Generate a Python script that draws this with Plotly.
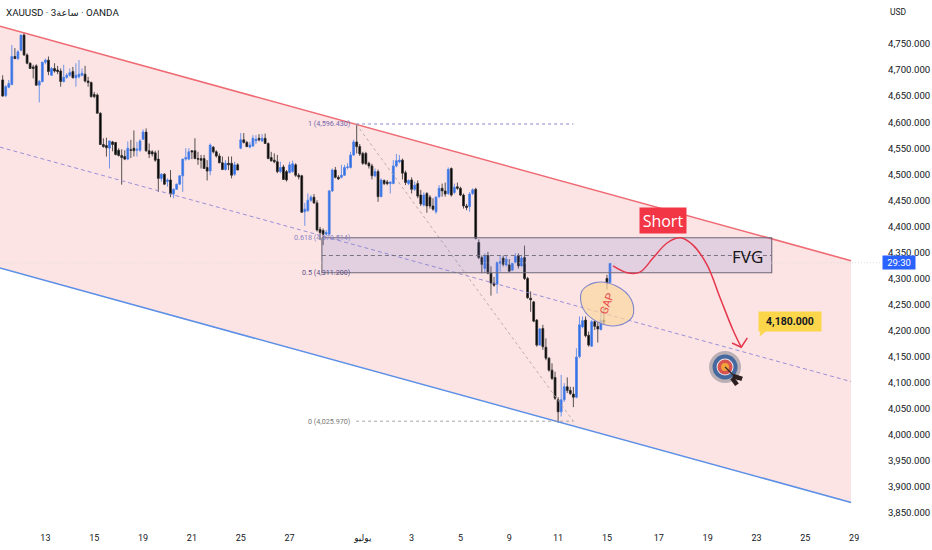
"""XAUUSD 3h chart with channel, FVG box and short idea."""

import plotly.graph_objects as go

# candles, one value per 3h bar
bar_open = [
    4681, 4651, 4667, 4672, 4726, 4722, 4738, 4767, 4729, 4713,
    4706, 4708, 4671, 4678, 4715, 4719, 4690, 4703, 4700, 4698,
    4678, 4686, 4690, 4697, 4685, 4687, 4690, 4692, 4679, 4676,
    4653, 4652, 4617, 4557, 4555, 4550, 4562, 4561, 4546, 4536,
    4534, 4529, 4547, 4550, 4546, 4546, 4567, 4581, 4545, 4543,
    4541, 4529, 4492, 4500, 4486, 4489, 4462, 4471, 4481, 4497,
    4529, 4529, 4545, 4545, 4530, 4530, 4530, 4513, 4506, 4552,
    4543, 4535, 4522, 4509, 4521, 4521, 4500, 4518, 4550, 4566,
    4561, 4552, 4554, 4564, 4569, 4564, 4569, 4559, 4532, 4527,
    4524, 4505, 4514, 4505, 4503, 4505, 4518, 4498, 4497, 4428,
    4430, 4450, 4456, 4445, 4394, 4392, 4385, 4385, 4468, 4508,
    4494, 4494, 4498, 4513, 4513, 4537, 4562, 4553, 4540, 4540,
    4521, 4516, 4497, 4505, 4457, 4488, 4485, 4482, 4482, 4516,
    4524, 4527, 4503, 4482, 4489, 4471, 4482, 4460, 4441, 4463,
    4456, 4439, 4428, 4457, 4473, 4468, 4463, 4511, 4465, 4476,
    4473, 4460, 4439, 4438, 4463, 4471, 4369, 4340, 4319, 4344,
    4310, 4291, 4289, 4329, 4339, 4326, 4326, 4316, 4331, 4344,
    4324, 4340, 4300, 4262, 4255, 4220, 4172, 4204, 4168, 4147,
    4124, 4110, 4067, 4044, 4067, 4092, 4085, 4078, 4072, 4150,
    4207, 4220, 4191, 4170, 4217, 4208, 4202, 4220, 4300, 4292,
]
bar_high = [
    4690, 4671, 4681, 4748, 4742, 4738, 4768, 4772, 4732, 4715,
    4710, 4711, 4681, 4716, 4722, 4726, 4706, 4713, 4708, 4703,
    4710, 4694, 4703, 4706, 4713, 4719, 4703, 4708, 4687, 4678,
    4658, 4655, 4619, 4569, 4570, 4564, 4564, 4562, 4550, 4548,
    4546, 4563, 4566, 4584, 4562, 4567, 4586, 4588, 4559, 4546,
    4545, 4546, 4502, 4502, 4492, 4508, 4473, 4482, 4498, 4530,
    4550, 4550, 4546, 4569, 4543, 4537, 4537, 4527, 4559, 4554,
    4546, 4540, 4534, 4527, 4534, 4534, 4524, 4521, 4579, 4579,
    4564, 4562, 4575, 4575, 4577, 4577, 4578, 4561, 4543, 4540,
    4537, 4524, 4518, 4508, 4524, 4526, 4521, 4502, 4499, 4445,
    4463, 4460, 4462, 4450, 4399, 4396, 4393, 4470, 4511, 4514,
    4498, 4518, 4518, 4521, 4543, 4566, 4596, 4558, 4543, 4543,
    4524, 4520, 4511, 4509, 4492, 4490, 4489, 4486, 4527, 4539,
    4537, 4530, 4507, 4490, 4494, 4486, 4488, 4470, 4465, 4466,
    4460, 4454, 4458, 4479, 4482, 4484, 4513, 4513, 4482, 4484,
    4476, 4463, 4443, 4466, 4473, 4474, 4375, 4344, 4348, 4351,
    4323, 4303, 4331, 4344, 4344, 4344, 4337, 4329, 4348, 4348,
    4345, 4363, 4303, 4275, 4257, 4222, 4205, 4211, 4185, 4149,
    4137, 4121, 4072, 4115, 4099, 4110, 4092, 4092, 4166, 4227,
    4227, 4227, 4198, 4220, 4220, 4217, 4236, 4246, 4307, 4329,
]
bar_low = [
    4649, 4648, 4665, 4671, 4721, 4719, 4736, 4727, 4711, 4703,
    4684, 4670, 4638, 4676, 4711, 4690, 4689, 4695, 4692, 4668,
    4676, 4683, 4687, 4684, 4668, 4684, 4688, 4676, 4668, 4647,
    4646, 4617, 4556, 4551, 4534, 4511, 4544, 4536, 4534, 4480,
    4527, 4527, 4531, 4534, 4534, 4543, 4566, 4543, 4531, 4534,
    4524, 4466, 4486, 4479, 4476, 4456, 4454, 4470, 4479, 4466,
    4526, 4527, 4529, 4529, 4518, 4511, 4511, 4488, 4498, 4540,
    4532, 4521, 4508, 4507, 4508, 4492, 4497, 4508, 4548, 4559,
    4552, 4550, 4553, 4558, 4563, 4562, 4559, 4529, 4524, 4521,
    4502, 4502, 4489, 4486, 4502, 4503, 4495, 4490, 4426, 4401,
    4428, 4447, 4443, 4390, 4374, 4364, 4383, 4383, 4466, 4492,
    4489, 4492, 4497, 4509, 4511, 4535, 4540, 4535, 4518, 4518,
    4511, 4490, 4494, 4447, 4456, 4479, 4479, 4463, 4481, 4513,
    4521, 4490, 4479, 4479, 4463, 4468, 4454, 4439, 4438, 4426,
    4434, 4430, 4424, 4454, 4457, 4457, 4460, 4457, 4462, 4470,
    4458, 4434, 4431, 4428, 4460, 4375, 4337, 4310, 4310, 4308,
    4267, 4284, 4271, 4313, 4323, 4323, 4312, 4314, 4329, 4319,
    4323, 4297, 4261, 4236, 4216, 4169, 4171, 4163, 4143, 4121,
    4105, 4067, 4023, 4035, 4063, 4080, 4076, 4053, 4070, 4147,
    4204, 4187, 4169, 4169, 4201, 4177, 4200, 4211, 4279, 4291,
]
bar_close = [
    4650, 4668, 4674, 4726, 4722, 4735, 4767, 4729, 4713, 4703,
    4703, 4671, 4678, 4715, 4719, 4697, 4703, 4698, 4697, 4678,
    4686, 4690, 4695, 4685, 4690, 4692, 4694, 4679, 4676, 4649,
    4649, 4617, 4557, 4553, 4551, 4564, 4557, 4538, 4536, 4532,
    4529, 4550, 4546, 4545, 4548, 4564, 4581, 4545, 4539, 4539,
    4527, 4492, 4500, 4481, 4489, 4463, 4471, 4481, 4497, 4529,
    4532, 4543, 4543, 4530, 4529, 4527, 4511, 4506, 4556, 4543,
    4535, 4522, 4509, 4521, 4518, 4498, 4518, 4508, 4566, 4561,
    4553, 4556, 4569, 4567, 4566, 4569, 4559, 4530, 4526, 4524,
    4505, 4513, 4490, 4489, 4518, 4520, 4498, 4495, 4427, 4433,
    4450, 4456, 4445, 4393, 4388, 4385, 4388, 4468, 4508, 4494,
    4491, 4498, 4513, 4514, 4537, 4562, 4553, 4539, 4521, 4520,
    4516, 4497, 4505, 4457, 4489, 4482, 4482, 4485, 4516, 4526,
    4527, 4502, 4484, 4488, 4471, 4479, 4458, 4443, 4460, 4439,
    4439, 4433, 4456, 4473, 4468, 4462, 4509, 4460, 4475, 4473,
    4460, 4439, 4436, 4462, 4470, 4377, 4340, 4327, 4344, 4310,
    4291, 4287, 4331, 4332, 4327, 4337, 4314, 4329, 4342, 4324,
    4339, 4300, 4263, 4259, 4218, 4172, 4203, 4169, 4147, 4124,
    4108, 4070, 4044, 4067, 4092, 4085, 4079, 4072, 4149, 4211,
    4219, 4190, 4172, 4217, 4208, 4203, 4220, 4216, 4291, 4329,
]
bar_index = list(range(len(bar_close)))

# time axis labels, placed on bar numbers
tick_bars = [14, 30, 46, 62, 78, 94, 118, 134, 150, 166, 182, 198, 215, 231, 247, 263, 279]
tick_labels = ["13", "15", "19", "21", "25", "27", "يوليو", "3", "5", "9", "11", "15", "17", "19", "23", "25", "29"]
price_ticks = list(range(3850, 4751, 50))

# drawing tools, all in bar number / price
channel_x = [-0.9, 278]
channel_upper = [4784, 4334]
channel_lower = [4320, 3870]
channel_mid = [4552, 4102]

fvg_x = [104.6, 252]
fvg_top = 4378
fvg_bottom = 4311
fvg_mid = 4344

fib_x = [115.8, 187]
fib_high = 4596.43
fib_low = 4025.97

last_price = 4330

gap_x = [206.4, 201.9, 195.1, 190.1, 189.7, 194.1, 200.9, 206, 206.4]
gap_y = [4227, 4210, 4216, 4243, 4275, 4292, 4286, 4259, 4227]

path_x = [200, 204.6, 208.8, 213.1, 217.7, 222, 226.2, 230.8, 235, 239.3, 242]
path_y = [4324, 4311, 4312, 4339, 4368, 4378, 4364, 4326, 4264, 4201, 4168]
head_x = [239, 242, 244]
head_y = [4176, 4168, 4186]

tail_x = [248.5, 250.8, 248.1, 248.5]
tail_y = [4203, 4203, 4189, 4203]

target_x = 236.7
target_y = 4130

FONT = "Roboto, 'DejaVu Sans', sans-serif"
TEXT = "#131722"
BLUE = "#2f6fe4"
RED_CURVE = "#e5374c"

fig = go.Figure()

fig.add_trace(go.Candlestick(
    x=bar_index, open=bar_open, high=bar_high, low=bar_low, close=bar_close,
    increasing=dict(line=dict(color="#4a80e8", width=0.8), fillcolor=BLUE),
    decreasing=dict(line=dict(color="#2a2a2a", width=0.8), fillcolor="#000000"),
    whiskerwidth=0, hoverinfo="skip", showlegend=False,
))

# channel borders and mid line
fig.add_trace(go.Scatter(x=channel_x, y=channel_upper, mode="lines",
                         line=dict(color="#ee6b74", width=1.6), hoverinfo="skip", showlegend=False))
fig.add_trace(go.Scatter(x=channel_x, y=channel_lower, mode="lines",
                         line=dict(color="#5c8fe6", width=1.6), hoverinfo="skip", showlegend=False))
fig.add_trace(go.Scatter(x=channel_x, y=channel_mid, mode="lines",
                         line=dict(color="#8f86d6", width=0.9, dash="4px,3px"), hoverinfo="skip", showlegend=False))

# fib lines and diagonal
fig.add_trace(go.Scatter(x=fib_x, y=[fib_high, fib_high], mode="lines",
                         line=dict(color="#7f78c4", width=0.9, dash="3px,3px"), hoverinfo="skip", showlegend=False))
fig.add_trace(go.Scatter(x=fib_x, y=[fib_low, fib_low], mode="lines",
                         line=dict(color="#9a9a9a", width=0.9, dash="3px,3px"), hoverinfo="skip", showlegend=False))
fig.add_trace(go.Scatter(x=fib_x, y=[fib_high, fib_low], mode="lines",
                         line=dict(color="#b6a5a5", width=0.9, dash="3px,3px"), hoverinfo="skip", showlegend=False))

# FVG box goes over the candles
fig.add_trace(go.Scatter(
    x=[fvg_x[0], fvg_x[1], fvg_x[1], fvg_x[0], fvg_x[0]],
    y=[fvg_top, fvg_top, fvg_bottom, fvg_bottom, fvg_top],
    mode="lines", fill="toself", fillcolor="rgba(120,125,210,0.2)",
    line=dict(color="#6f6a78", width=1.1), hoverinfo="skip", showlegend=False,
))
fig.add_trace(go.Scatter(x=fvg_x, y=[fvg_mid, fvg_mid], mode="lines",
                         line=dict(color="#6f6a78", width=0.9, dash="4px,3px"), hoverinfo="skip", showlegend=False))

# last price line
fig.add_trace(go.Scatter(x=[-0.9, 288], y=[last_price, last_price], mode="lines",
                         line=dict(color="#d5d5d8", width=0.8, dash="1px,2px"), hoverinfo="skip", showlegend=False))

# gap ellipse
fig.add_trace(go.Scatter(
    x=gap_x, y=gap_y, mode="lines", fill="toself", fillcolor="rgba(250,215,160,0.72)",
    line=dict(color="#7f86c9", width=1.1, shape="spline", smoothing=1.0),
    hoverinfo="skip", showlegend=False,
))

# short idea arrow
fig.add_trace(go.Scatter(x=path_x, y=path_y, mode="lines",
                         line=dict(color=RED_CURVE, width=1.5, shape="spline"), hoverinfo="skip", showlegend=False))
fig.add_trace(go.Scatter(x=head_x, y=head_y, mode="lines",
                         line=dict(color=RED_CURVE, width=1.5), hoverinfo="skip", showlegend=False))

# price tag tail
fig.add_trace(go.Scatter(x=tail_x, y=tail_y, mode="lines", fill="toself", fillcolor="#fbd54a",
                         line=dict(color="#fbd54a", width=0.5), hoverinfo="skip", showlegend=False))

# target icon
for size, color in [(32, "#baafb5"), (25, "#45699e"), (17, "#e6e6ee"), (15, "#d9534f"), (8, "#f2a33a")]:
    fig.add_trace(go.Scatter(x=[target_x], y=[target_y], mode="markers",
                             marker=dict(size=size, color=color, line=dict(width=0)),
                             hoverinfo="skip", showlegend=False))
fig.add_trace(go.Scatter(x=[target_x, 241], y=[target_y, 4105], mode="lines",
                         line=dict(color="#3b2a2a", width=1.3), hoverinfo="skip", showlegend=False))
fig.add_trace(go.Scatter(x=[239.3, 242.3], y=[4113, 4107], mode="lines",
                         line=dict(color="#2d2020", width=4.5), hoverinfo="skip", showlegend=False))
fig.add_trace(go.Scatter(x=[239, 240.6], y=[4109, 4096], mode="lines",
                         line=dict(color="#2d2020", width=4.5), hoverinfo="skip", showlegend=False))

# texts
fib_labels = [
    ("1 (4,596.430)", fib_high, "#7466ad"),
    ("0.618 (4,378.514)", fvg_top, "#8a86c4"),
    ("0.5 (4,311.200)", fvg_bottom, "#5d4f8a"),
    ("0 (4,025.970)", fib_low, "#787878"),
]
for label, price, color in fib_labels:
    fig.add_annotation(x=114.5, y=price, text=label, showarrow=False, xanchor="right",
                       font=dict(size=7.2, color=color, family=FONT))

fig.add_annotation(x=216.4, y=4412, text="Short", showarrow=False, width=44, height=23,
                   bgcolor="#f23645", font=dict(size=16, color="white", family="'Open Sans', sans-serif"))
fig.add_annotation(x=244, y=4343, text="FVG", showarrow=False,
                   font=dict(size=17, color="#111111", family="'Open Sans', sans-serif"))
fig.add_annotation(x=198.2, y=4251, text="GAP", showarrow=False, textangle=-70,
                   font=dict(size=11, color="#e84a4f", family=FONT))
fig.add_annotation(x=258, y=4218, text="<b>4,180.000</b>", showarrow=False, width=60, height=17,
                   bgcolor="#fbd54a", font=dict(size=10.5, color=TEXT, family=FONT))

fig.add_annotation(xref="paper", x=1.001, y=last_price, text="29:30", showarrow=False, xanchor="left",
                   width=30, height=11, bgcolor="#2962ff", font=dict(size=9.5, color="white", family=FONT))
fig.add_annotation(xref="paper", yref="paper", x=1.0195, y=0.977, xanchor="center", yanchor="middle",
                   text="USD", showarrow=False, font=dict(size=8.5, color=TEXT, family=FONT))
fig.add_annotation(xref="paper", yref="paper", x=0.005, y=0.976, xanchor="left", yanchor="middle",
                   text="XAUUSD · 3ساعة · OANDA", showarrow=False,
                   font=dict(size=9.8, color=TEXT, family=FONT))

fig.update_layout(
    width=932, height=550,
    margin=dict(l=0, r=51, t=0, b=22, pad=0),
    paper_bgcolor="white", plot_bgcolor="white",
    showlegend=False, hovermode=False, boxgap=0.15,
    font=dict(family=FONT, color=TEXT, size=9),
    # channel fill stays under the candles
    shapes=[dict(
        type="path", layer="below", line=dict(width=0), fillcolor="#fde4e4",
        path=(f"M {channel_x[0]} {channel_upper[0]} L {channel_x[1]} {channel_upper[1]} "
              f"L {channel_x[1]} {channel_lower[1]} L {channel_x[0]} {channel_lower[0]} Z"),
    )],
)
fig.update_xaxes(
    range=[-0.875, 287.8], rangeslider_visible=False, showgrid=False, zeroline=False, showline=False,
    tickmode="array", tickvals=tick_bars, ticktext=tick_labels, ticks="", ticklabelstandoff=3,
    tickangle=0, tickfont=dict(size=9, color=TEXT, family=FONT),
)
fig.update_yaxes(
    range=[3821, 4834.4], side="right", showgrid=False, zeroline=False, showline=False,
    tickmode="array", tickvals=price_ticks, tickformat=",.3f", ticks="", ticklabelstandoff=6,
    tickfont=dict(size=9.6, color=TEXT, family=FONT),
)

# browser default body margin would push the 932x550 figure out of the window
fig.write_html("out.html", config={"displayModeBar": False},
               post_script="document.body.style.margin='0';")
